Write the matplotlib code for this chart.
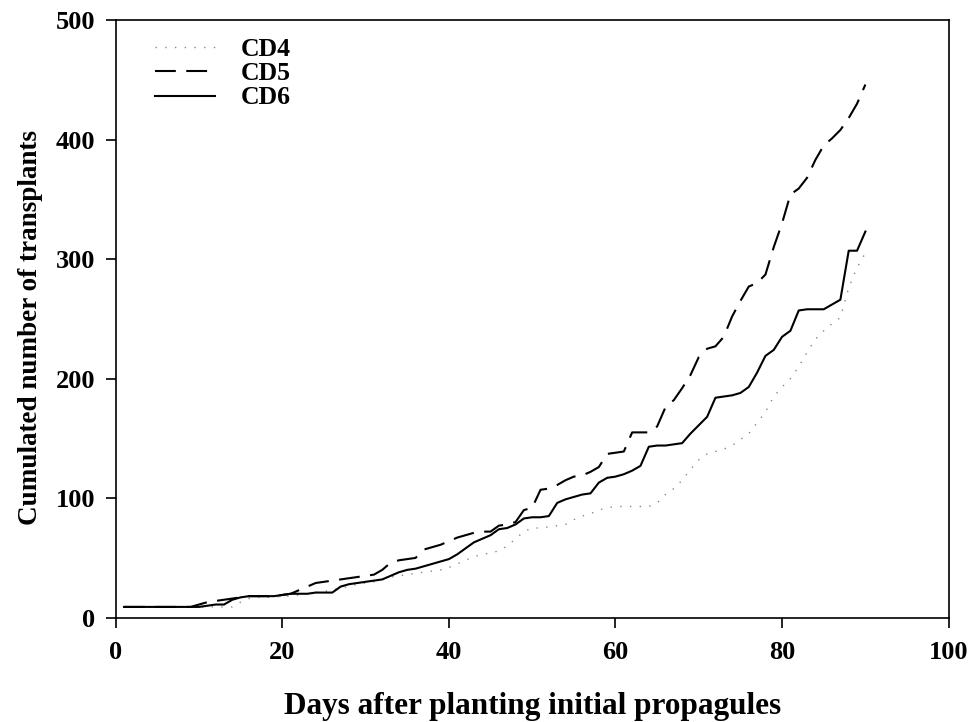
import matplotlib.pyplot as plt

plt.rcParams["font.family"] = ["Liberation Serif", "DejaVu Serif"]
plt.rcParams["font.weight"] = "bold"

# daily cumulated transplant counts, days 1..90
days = list(range(1, 91))

cd4 = [9, 9, 9, 9, 9, 9, 9, 9, 9, 9,
       9, 9, 9, 9, 13, 16, 17, 17, 17, 18,
       18, 19, 20, 21, 22, 23, 25, 26, 28, 29,
       30, 32, 34, 35, 36, 37, 38, 39, 40, 42,
       45, 48, 51, 53, 54, 56, 60, 66, 72, 75,
       75, 76, 77, 78, 82, 85, 87, 90, 92, 93,
       93, 93, 93, 93, 96, 103, 108, 115, 124, 132,
       137, 139, 141, 144, 149, 154, 163, 172, 185, 193,
       200, 210, 222, 233, 240, 246, 251, 276, 293, 305]

cd5 = [9, 9, 9, 9, 9, 9, 9, 9, 9, 11,
       13, 14, 15, 16, 17, 18, 18, 18, 18, 19,
       20, 23, 26, 29, 30, 31, 32, 33, 34, 35,
       36, 40, 46, 48, 49, 50, 57, 59, 61, 64,
       67, 69, 71, 72, 72, 77, 78, 80, 90, 92,
       107, 108, 111, 115, 118, 119, 122, 126, 137, 138,
       139, 155, 155, 155, 160, 176, 182, 192, 203, 218,
       225, 227, 235, 252, 265, 277, 280, 287, 310, 330,
       354, 359, 368, 383, 395, 401, 408, 418, 430, 446]

cd6 = [9, 9, 9, 9, 9, 9, 9, 9, 9, 9,
       10, 11, 11, 15, 17, 18, 18, 18, 18, 19,
       20, 20, 20, 21, 21, 21, 26, 28, 29, 30,
       31, 32, 35, 38, 40, 41, 43, 45, 47, 49,
       53, 58, 63, 66, 69, 74, 75, 78, 83, 84,
       84, 85, 96, 99, 101, 103, 104, 113, 117, 118,
       120, 123, 127, 143, 144, 144, 145, 146, 154, 161,
       168, 184, 185, 186, 188, 193, 205, 219, 224, 235,
       240, 257, 258, 258, 258, 262, 266, 307, 307, 323]

x_ticks = [0, 20, 40, 60, 80, 100]
y_ticks = [0, 100, 200, 300, 400, 500]

fig = plt.figure(figsize=(9.71, 7.22), dpi=100)
ax = fig.add_axes([0.1192, 0.1445, 0.8578, 0.8278])

ax.plot(days, cd4, color="#888888", lw=1.0, linestyle=(0, (1, 6)), label="CD4")
ax.plot(days, cd5, color="black", lw=1.5, linestyle=(0, (10, 5)), label="CD5")
ax.plot(days, cd6, color="black", lw=1.5, label="CD6")

ax.set_xlim(0, 100)
ax.set_ylim(0, 500)
ax.set_xticks(x_ticks)
ax.set_yticks(y_ticks)
ax.tick_params(direction="out", length=7, width=1.2, labelsize=19, pad=8,
               top=False, right=False)
ax.tick_params(axis="x", pad=10)
for side in ax.spines.values():
    side.set_linewidth(1.2)

ax.set_xlabel("Days after planting initial propagules", fontsize=22.5,
              fontweight="bold", labelpad=20)
ax.set_ylabel("Cumulated number of transplants", fontsize=19.5,
              fontweight="bold")
ax.yaxis.set_label_coords(-0.087, 0.486)

ax.legend(loc="upper left", frameon=False, fontsize=18.5, handlelength=2.35,
          handletextpad=1.0, labelspacing=0.05, borderpad=0,
          borderaxespad=0, bbox_to_anchor=(0.047, 0.970))

fig.savefig("out.png", dpi=100)
